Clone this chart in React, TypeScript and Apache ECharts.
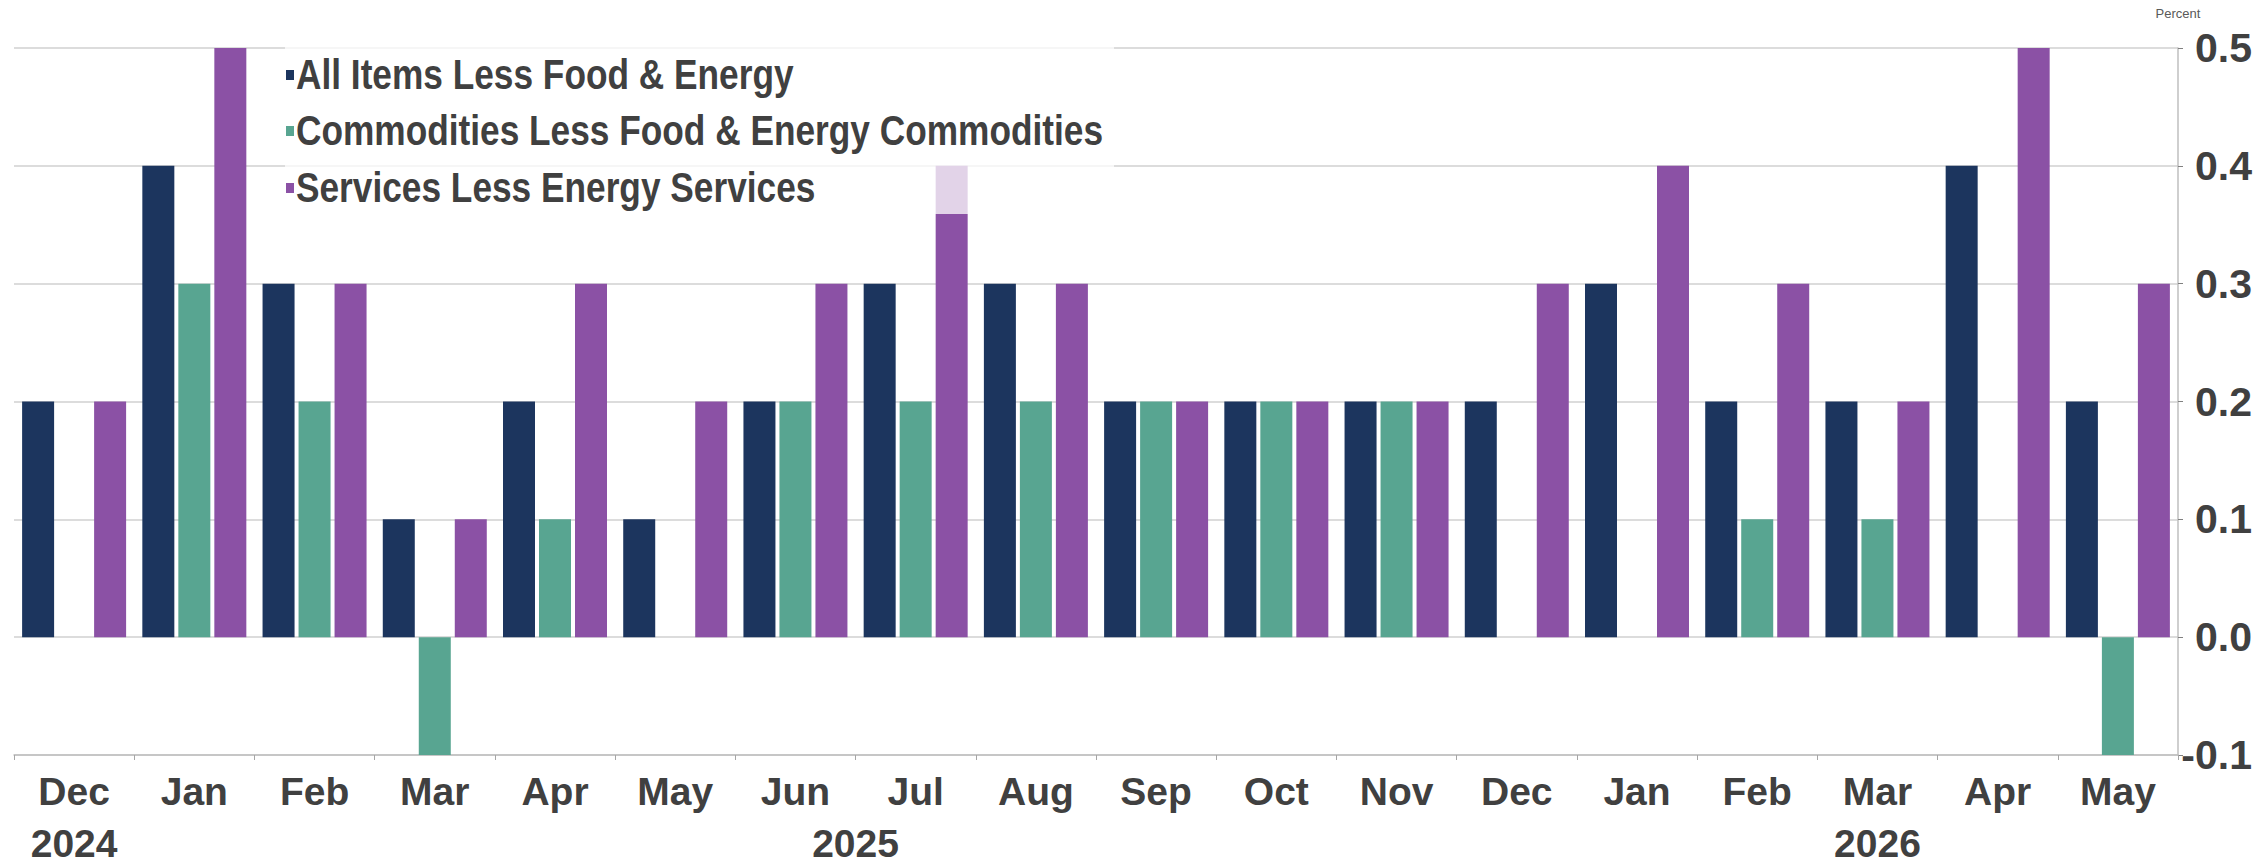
import React, { useEffect, useRef } from "react";
import * as echarts from "echarts";

const periods = [
  "2024-12", "2025-01", "2025-02", "2025-03", "2025-04", "2025-05", "2025-06", "2025-07", "2025-08",
  "2025-09", "2025-10", "2025-11", "2025-12", "2026-01", "2026-02", "2026-03", "2026-04", "2026-05",
];
const monthLabels = ["Dec", "Jan", "Feb", "Mar", "Apr", "May", "Jun", "Jul", "Aug", "Sep", "Oct", "Nov", "Dec", "Jan", "Feb", "Mar", "Apr", "May"];
const coreAll = [0.2, 0.4, 0.3, 0.1, 0.2, 0.1, 0.2, 0.3, 0.3, 0.2, 0.2, 0.2, 0.2, 0.3, 0.2, 0.2, 0.4, 0.2];
const coreGoods = [0, 0.3, 0.2, -0.1, 0.1, 0, 0.2, 0.2, 0.2, 0.2, 0.2, 0.2, 0, 0, 0.1, 0.1, 0, -0.1];
const coreServices = [0.2, 0.5, 0.3, 0.1, 0.3, 0.2, 0.3, 0.4, 0.3, 0.2, 0.2, 0.2, 0.3, 0.4, 0.3, 0.2, 0.5, 0.3];
const seriesNames = [
  "All Items Less Food & Energy",
  "Commodities Less Food & Energy Commodities",
  "Services Less Energy Services",
];
const yearLabels = [
  { text: "2024", from: 0, to: 0 },
  { text: "2025", from: 1, to: 12 },
  { text: "2026", from: 13, to: 17 },
];

const SANS = "'Liberation Sans', Arial, sans-serif";
const TEXT = "#404040";
const colors = ["#1c355e", "#58a591", "#8b51a5"];

export default function App() {
  const ref = useRef<HTMLDivElement>(null);
  useEffect(() => {
    if (!ref.current) return;
    const chart = echarts.init(ref.current, undefined, { renderer: "svg" });
    const barCommon = {
      type: "bar" as const,
      barWidth: 32,
      barGap: "12.5%",
      barCategoryGap: "13.3%",
    };
    chart.setOption({
      animation: false,
      grid: { left: 14, right: 89, top: 48, bottom: 111, outerBoundsMode: "none", containLabel: false },
      legend: { show: false, data: seriesNames },
      xAxis: {
        type: "category",
        data: periods,
        axisLine: { onZero: false, lineStyle: { color: "#bfbfbf", width: 1.5 } },
        axisTick: { show: true, length: 5, lineStyle: { color: "#a6a6a6" } },
        axisLabel: {
          formatter: (_v: string, i: number) => monthLabels[i],
          fontFamily: SANS,
          fontWeight: "bold",
          fontSize: 39,
          color: TEXT,
          margin: 17,
          interval: 0,
        },
        splitLine: { show: false },
      },
      yAxis: {
        type: "value",
        position: "right",
        min: -0.1,
        max: 0.5,
        interval: 0.1,
        axisLine: { show: true, lineStyle: { color: "#bfbfbf", width: 1.5 } },
        axisTick: { show: true, length: 5, lineStyle: { color: "#808080" } },
        axisLabel: {
          formatter: (v: number) => (Math.abs(v) < 1e-9 ? 0 : v).toFixed(1),
          fontFamily: SANS,
          fontWeight: "bold",
          fontSize: 41,
          color: TEXT,
          align: "right",
          margin: 74,
        },
        splitLine: { lineStyle: { color: "#d0d0d0", width: 1.5 } },
      },
      series: [
        { ...barCommon, name: seriesNames[0], data: coreAll, itemStyle: { color: colors[0] } },
        { ...barCommon, name: seriesNames[1], data: coreGoods, itemStyle: { color: colors[1] } },
        { ...barCommon, name: seriesNames[2], data: coreServices, itemStyle: { color: colors[2] } },
      ],
      color: colors,
    });

    const graphics: any[] = [
      {
        type: "rect",
        shape: { x: 285, y: 30, width: 829, height: 184 },
        style: { fill: "rgba(255,255,255,0.75)" },
        z: 5,
        silent: true,
      },
      {
        type: "text",
        x: 2178,
        y: 13,
        style: {
          text: "Percent",
          fontFamily: SANS,
          fontSize: 13,
          fill: "#595959",
          align: "center",
          verticalAlign: "middle",
        },
      },
    ];
    const rowCenters = [74, 130, 187];
    seriesNames.forEach((name, i) => {
      graphics.push({
        type: "rect",
        shape: { x: 286, y: rowCenters[i] - 4, width: 8, height: 10 },
        style: { fill: colors[i] },
        z: 10,
      });
      graphics.push({
        type: "text",
        x: 296,
        y: rowCenters[i],
        scaleX: 0.82,
        z: 10,
        style: {
          text: name,
          fontFamily: SANS,
          fontWeight: "bold",
          fontSize: 43,
          fill: TEXT,
          align: "left",
          verticalAlign: "middle",
        },
      });
    });
    yearLabels.forEach((yl) => {
      const a = chart.convertToPixel({ xAxisIndex: 0 }, yl.from) as number;
      const b = chart.convertToPixel({ xAxisIndex: 0 }, yl.to) as number;
      graphics.push({
        type: "text",
        x: (a + b) / 2,
        y: 843,
        style: {
          text: yl.text,
          fontFamily: SANS,
          fontWeight: "bold",
          fontSize: 39,
          fill: TEXT,
          align: "center",
          verticalAlign: "middle",
        },
      });
    });
    chart.setOption({ graphic: graphics });
    return () => chart.dispose();
  }, []);
  return (
    <div
      ref={ref}
      style={{ position: "absolute", left: 0, top: 0, width: 2267, height: 866, background: "#fff" }}
    />
  );
}
